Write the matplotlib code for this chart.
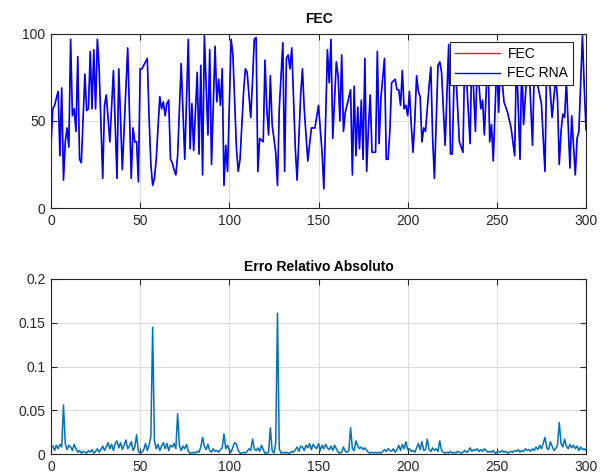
import matplotlib
matplotlib.use("Agg")
import matplotlib.pyplot as plt

plt.rcParams["font.family"] = ["Liberation Sans", "DejaVu Sans"]

# ---- data ------------------------------------------------------------
# FEC / FEC RNA: vertices of the trace (sample index, value)
fec_x = [0, 1, 2, 4, 5, 6, 7, 8, 9, 10, 11, 12, 13, 14, 15, 16, 17, 19, 20,
         21, 22, 23, 24, 25, 26, 27, 29, 30, 31, 33, 35, 37, 38, 40, 43, 45,
         46, 47, 48, 49, 50, 51, 52, 54, 55, 56, 57, 58, 59, 61, 62, 63, 64,
         65, 66, 67, 68, 69, 70, 71, 73, 75, 77, 78, 79, 80, 82, 83, 84, 85,
         86, 88, 89, 90, 92, 93, 94, 95, 96, 97, 98, 99, 101, 102, 104, 105,
         106, 108, 109, 110, 112, 113, 114, 115, 116, 117, 119, 120, 121, 122,
         123, 124, 126, 127, 128, 130, 131, 132, 133, 134, 135, 137, 138, 140,
         141, 142, 144, 146, 148, 150, 152, 153, 155, 156, 157, 158, 160, 161,
         162, 163, 164, 165, 166, 168, 169, 170, 171, 172, 173, 174, 175, 176,
         177, 178, 179, 180, 182, 183, 184, 185, 187, 188, 189, 190, 191, 193,
         194, 195, 196, 197, 198, 199, 200, 201, 202, 203, 204, 205, 206, 207,
         208, 209, 210, 212, 213, 214, 215, 217, 218, 219, 221, 223, 224, 225,
         226, 227, 229, 231, 232, 233, 235, 236, 238, 239, 241, 242, 243, 245,
         246, 247, 248, 250, 251, 252, 254, 256, 258, 260, 261, 263, 264, 265,
         267, 268, 270, 271, 272, 273, 275, 277, 278, 279, 281, 283, 284, 285,
         286, 287, 288, 289, 291, 292, 294, 295, 296, 298, 299, 300]
fec_y = [36, 57, 59, 67, 30, 69, 16, 38, 46, 35, 97, 53, 57, 44, 87, 28, 26,
         77, 56, 57, 90, 57, 91, 57, 97, 80, 17, 59, 65, 38, 79, 17, 80, 22,
         92, 17, 46, 38, 38, 15, 80, 80, 82, 86, 52, 25, 13, 17, 28, 64, 57,
         61, 53, 60, 62, 28, 26, 22, 19, 30, 83, 28, 97, 34, 60, 33, 78, 31,
         82, 19, 99, 42, 91, 25, 93, 61, 74, 59, 80, 13, 36, 21, 97, 88, 34,
         21, 28, 67, 80, 78, 52, 73, 97, 98, 21, 40, 38, 85, 57, 42, 76, 48,
         32, 13, 57, 95, 21, 86, 88, 80, 92, 34, 16, 65, 80, 57, 27, 46, 46,
         59, 32, 11, 91, 72, 97, 40, 84, 76, 50, 88, 44, 55, 59, 68, 19, 70,
         30, 58, 34, 62, 28, 86, 21, 46, 65, 32, 32, 90, 37, 63, 86, 28, 28,
         44, 72, 74, 68, 68, 59, 79, 57, 59, 53, 67, 48, 32, 50, 76, 67, 64,
         38, 46, 44, 70, 81, 40, 17, 82, 84, 78, 36, 94, 31, 31, 73, 78, 38,
         32, 88, 75, 37, 90, 44, 85, 57, 62, 42, 90, 38, 48, 27, 85, 55, 85,
         61, 55, 46, 30, 88, 28, 85, 48, 80, 83, 36, 80, 90, 70, 60, 21, 85,
         80, 52, 75, 63, 25, 44, 54, 52, 73, 23, 53, 19, 40, 44, 99, 70, 45]

# Erro Relativo Absoluto, samples 1..300
err = [
    0.009, 0.004, 0.010, 0.006, 0.011, 0.008, 0.056, 0.012, 0.005, 0.010,
    0.008, 0.004, 0.011, 0.006, 0.002, 0.004, 0.001, 0.003, 0.002, 0.001,
    0.004, 0.002, 0.005, 0.001, 0.003, 0.006, 0.002, 0.005, 0.009, 0.004,
    0.008, 0.013, 0.006, 0.011, 0.004, 0.012, 0.015, 0.007, 0.013, 0.005,
    0.010, 0.016, 0.006, 0.009, 0.014, 0.004, 0.008, 0.022, 0.003, 0.001,
    0.002, 0.005, 0.012, 0.004, 0.010, 0.020, 0.145, 0.015, 0.006, 0.011,
    0.004, 0.009, 0.013, 0.006, 0.012, 0.004, 0.010, 0.008, 0.012, 0.006,
    0.046, 0.010, 0.004, 0.009, 0.006, 0.011, 0.003, 0.001, 0.001, 0.002,
    0.001, 0.003, 0.002, 0.008, 0.019, 0.009, 0.005, 0.011, 0.004, 0.002,
    0.006, 0.003, 0.004, 0.002, 0.005, 0.007, 0.023, 0.006, 0.010, 0.004,
    0.002, 0.008, 0.013, 0.011, 0.004, 0.001, 0.001, 0.002, 0.001, 0.003,
    0.006, 0.004, 0.017, 0.006, 0.004, 0.007, 0.003, 0.010, 0.005, 0.001,
    0.001, 0.002, 0.030, 0.004, 0.001, 0.012, 0.161, 0.006, 0.001, 0.002,
    0.001, 0.002, 0.001, 0.001, 0.003, 0.002, 0.005, 0.008, 0.003, 0.009,
    0.008, 0.004, 0.010, 0.007, 0.012, 0.005, 0.011, 0.008, 0.006, 0.012,
    0.004, 0.010, 0.006, 0.011, 0.007, 0.005, 0.009, 0.004, 0.010, 0.006,
    0.002, 0.001, 0.002, 0.008, 0.003, 0.002, 0.004, 0.030, 0.006, 0.004,
    0.015, 0.009, 0.006, 0.008, 0.005, 0.007, 0.004, 0.002, 0.001, 0.002,
    0.001, 0.002, 0.001, 0.002, 0.001, 0.003, 0.005, 0.003, 0.006, 0.004,
    0.003, 0.006, 0.002, 0.005, 0.010, 0.004, 0.011, 0.006, 0.014, 0.005,
    0.006, 0.003, 0.004, 0.002, 0.007, 0.012, 0.005, 0.014, 0.004, 0.005,
    0.017, 0.005, 0.003, 0.007, 0.004, 0.006, 0.003, 0.015, 0.004, 0.002,
    0.001, 0.002, 0.001, 0.003, 0.001, 0.002, 0.001, 0.003, 0.002, 0.001,
    0.002, 0.004, 0.002, 0.003, 0.007, 0.003, 0.005, 0.004, 0.006, 0.003,
    0.005, 0.003, 0.006, 0.004, 0.002, 0.003, 0.002, 0.004, 0.001, 0.002,
    0.003, 0.002, 0.004, 0.002, 0.003, 0.001, 0.002, 0.003, 0.002, 0.004,
    0.003, 0.005, 0.002, 0.004, 0.003, 0.006, 0.004, 0.005, 0.003, 0.006,
    0.004, 0.008, 0.005, 0.010, 0.006, 0.012, 0.019, 0.007, 0.005, 0.014,
    0.009, 0.004, 0.006, 0.010, 0.036, 0.012, 0.008, 0.017, 0.009, 0.006,
    0.011, 0.007, 0.010, 0.006, 0.009, 0.004, 0.008, 0.005, 0.006, 0.004,
]
err_x = list(range(1, len(err) + 1))

x_ticks = [0, 50, 100, 150, 200, 250, 300]
top_yticks = [0, 50, 100]
bot_yticks = [0, 0.05, 0.1, 0.15, 0.2]
bot_yticklabels = ["0", "0.05", "0.1", "0.15", "0.2"]


def style_axes(ax):
    ax.grid(True, color="#d9d9d9", linewidth=0.7)
    ax.set_axisbelow(True)
    for s in ax.spines.values():
        s.set_color("#262626")
        s.set_linewidth(0.8)
    ax.tick_params(direction="in", top=True, right=True, length=4,
                   width=0.8, color="#262626", labelsize=10,
                   labelcolor="#262626", pad=4)


fig = plt.figure(figsize=(6.01, 4.73), dpi=100)
W, H = 601, 473
ax1 = fig.add_axes([51 / W, (H - 208) / H, 535 / W, 174 / H])
ax2 = fig.add_axes([51 / W, (H - 454) / H, 535 / W, 175 / H])

# top panel: the reference line (red) lies under the network output (blue)
ax1.plot(fec_x, fec_y, color="#d62728", linewidth=0.5, label="FEC")
ax1.plot(fec_x, fec_y, color="#0000ff", linewidth=1.2, label="FEC RNA")
ax1.set_xlim(0, 300)
ax1.set_ylim(0, 100)
ax1.set_xticks(x_ticks)
ax1.set_yticks(top_yticks)
ax1.set_title("FEC", fontsize=10, fontweight="bold", pad=8)
style_axes(ax1)
leg = ax1.legend(loc="upper right", bbox_to_anchor=(0.976, 0.954),
                 borderaxespad=0, fontsize=10, frameon=True, fancybox=False,
                 handlelength=3.3, borderpad=0.35, labelspacing=0.4,
                 handletextpad=0.5)
leg.get_frame().set_edgecolor("#262626")
leg.get_frame().set_linewidth(0.8)
leg.get_frame().set_alpha(1)
for line in leg.get_lines():
    line.set_linewidth(1.0)

# bottom panel
ax2.plot(err_x, err, color="#0072BD", linewidth=1.1)
ax2.set_xlim(0, 300)
ax2.set_ylim(0, 0.2)
ax2.set_xticks(x_ticks)
ax2.set_yticks(bot_yticks)
ax2.set_yticklabels(bot_yticklabels)
ax2.set_title("Erro Relativo Absoluto", fontsize=10, fontweight="bold", pad=6)
style_axes(ax2)

fig.savefig("out.png", dpi=100)
